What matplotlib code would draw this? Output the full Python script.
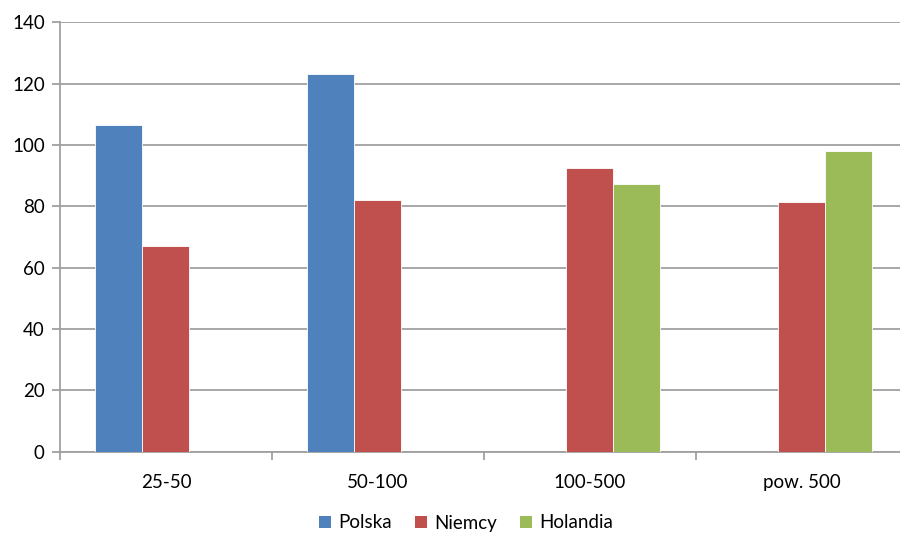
import numpy as np
import matplotlib
matplotlib.use("Agg")
import matplotlib.pyplot as plt
from matplotlib.patches import Patch

categories = ["25-50", "50-100", "100-500", "pow. 500"]
series_names = ["Polska", "Niemcy", "Holandia"]
polska = [106.6, 123.1, np.nan, np.nan]
niemcy = [67.1, 82.0, 92.6, 81.5]
holandia = [np.nan, np.nan, 87.4, 98.0]
colors = ["#4F81BD", "#C0504D", "#9BBB59"]
yticks = [0, 20, 40, 60, 80, 100, 120, 140]

plt.rcParams['font.family'] = ['Lato', 'DejaVu Sans']

fig = plt.figure(figsize=(9, 5.33), dpi=100)
W, H = 900, 533
left, right, top, bottom = 60, 907.6, 22.3, 451.7
ax = fig.add_axes([left / W, 1 - bottom / H, (right - left) / W, (bottom - top) / H])

x = np.arange(len(categories))
bw = 0.222
for i, (vals, c, name) in enumerate(zip([polska, niemcy, holandia], colors, series_names)):
    ax.bar(x + (i - 1) * bw, vals, width=bw, color=c, edgecolor='white', linewidth=0.6, zorder=3, label=name)

ax.set_xlim(-0.5, len(categories) - 0.5)
ax.set_ylim(0, 140)
ax.set_yticks(yticks)
ax.set_yticklabels([str(v) for v in yticks], fontsize=13.5)
ax.yaxis.grid(True, color='#A0A0A0', linewidth=1.3, zorder=0)
ax.set_axisbelow(True)

ax.set_xticks(x)
ax.set_xticklabels(categories, fontsize=13.5)
ax.tick_params(axis='x', length=0, pad=16)
ax.set_xticks(np.arange(len(categories)) - 0.5, minor=True)
ax.tick_params(axis='x', which='minor', length=6, color='#A0A0A0', width=1.3)
ax.tick_params(axis='y', length=6, color='#A0A0A0', width=1.3, pad=5)

for s in ['top', 'right']:
    ax.spines[s].set_visible(False)
for s in ['left', 'bottom']:
    ax.spines[s].set_color('#A0A0A0')
    ax.spines[s].set_linewidth(1.3)

handles = [Patch(facecolor=c, label=n) for c, n in zip(colors, series_names)]
fig.legend(handles=handles, loc='center', bbox_to_anchor=(466 / W, 1 - 523 / H), ncol=3,
           frameon=False, fontsize=13.5, handlelength=0.65, handleheight=0.65,
           handletextpad=0.4, columnspacing=1.2)

fig.savefig("out.png", dpi=100)
